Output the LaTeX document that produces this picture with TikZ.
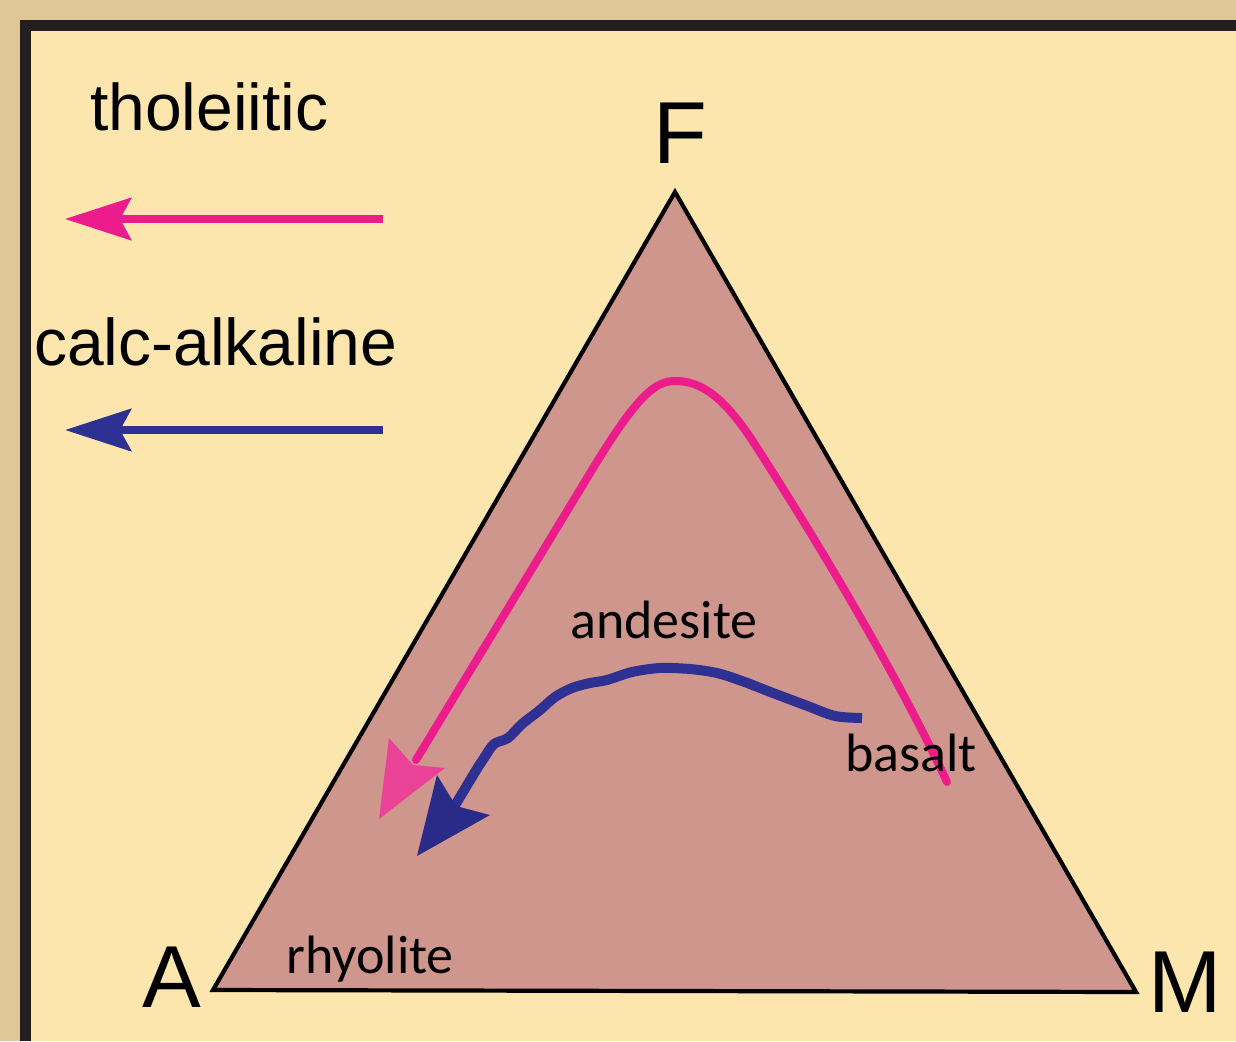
\documentclass[tikz,border=0pt]{standalone}
\usepackage{fontspec}
\setmainfont{Liberation Sans}
\newfontfamily\carlito{Carlito}
\usetikzlibrary{arrows.meta}
\definecolor{outertan}{HTML}{E0C797}
\definecolor{framedark}{HTML}{231F20}
\definecolor{panel}{HTML}{FCE6AE}
\definecolor{trifill}{HTML}{CF968D}
\definecolor{tholpink}{HTML}{EC1C8C}
\definecolor{headpink}{HTML}{EC3E98}
\definecolor{calcblue}{HTML}{2E3192}
\definecolor{headblue}{HTML}{2A2A88}
\tikzset{
  legendtext/.style={font=\fontsize{66}{70}\selectfont, inner sep=0pt, anchor=base west, text=black},
  vertexlabel/.style={font=\fontsize{88}{90}\selectfont, inner sep=0pt, anchor=base, text=black},
  rocklabel/.style={font=\carlito\fontsize{54}{58}\selectfont, inner sep=0pt, anchor=base west, text=black},
  legendarrow/.style={line width=8.5pt, -{Stealth[length=66pt,width=42pt,inset=11pt]}},
  trendline/.style={line width=8pt, line cap=round, line join=round},
}
\begin{document}
\begin{tikzpicture}[x=1pt,y=-1pt]
  % background, frame, panel
  \fill[outertan] (0,0) rectangle (1236,1041);
  \fill[framedark] (20,20) rectangle (1236,1041);
  \fill[panel] (31,31) rectangle (1236,1041);
  \useasboundingbox (0,0) rectangle (1236,1041);

  % ternary triangle
  \coordinate (F) at (675,192);
  \coordinate (A) at (213,990);
  \coordinate (M) at (1136,992);
  \draw[line width=4.2pt, fill=trifill, line join=miter] (F) -- (M) -- (A) -- cycle;

  % vertex labels
  \node[vertexlabel] (labF) at (680,163) {F};
  \node[vertexlabel] (labA) at (172,1007) {A};
  \node[vertexlabel] (labM) at (1185,1012) {M};

  % legend
  \node[legendtext] (thol) at (90,130) {tholeiitic};
  \node[legendtext] (calc) at (34,365) {calc-alkaline};
  \coordinate (tholS) at (383,219);
  \coordinate (tholE) at (65,219);
  \coordinate (calcS) at (383,430);
  \coordinate (calcE) at (65,430);
  \draw[legendarrow, tholpink] (tholS) -- (tholE);
  \draw[legendarrow, calcblue] (calcS) -- (calcE);

  % tholeiitic trend (pink)
  \coordinate (pinkStart) at (947,782);
  \coordinate (pinkEnd) at (416,760);
  \draw[trendline, tholpink] (pinkStart)
    .. controls (900,680) and (820,545) .. (752,440)
    .. controls (722,395) and (700,381) .. (675,381)
    .. controls (655,381) and (638,396) .. (598,460)
    -- (pinkEnd);
  \coordinate (pinkTip) at (379,819);
  \fill[headpink, opacity=0.95] (pinkTip) -- (389,738) -- (413,765) -- (445,768) -- cycle;

  % calc-alkaline trend (blue)
  \draw[line width=10pt, calcblue, line cap=butt, line join=round] plot[smooth, tension=0.5] coordinates {
    (862,718) (835,716) (805,705) (773,693) (742,681) (717,673)
    (690,669) (660,668) (632,672) (607,680) (590,683) (572,688)
    (555,697) (540,710) (522,724) (508,738) (494,744) (484,758)
    (475,772) (463,792) (454,807)};
  \coordinate (blueTip) at (417,856);
  \fill[headblue] (blueTip) -- (437,775) -- (456,806) -- (490,815) -- cycle;

  % rock labels
  \node[rocklabel] (andesite) at (570,638) {andesite};
  \node[rocklabel] (basalt) at (845,771) {basalt};
  \node[rocklabel] (rhyolite) at (286,973) {rhyolite};
\end{tikzpicture}
\end{document}
